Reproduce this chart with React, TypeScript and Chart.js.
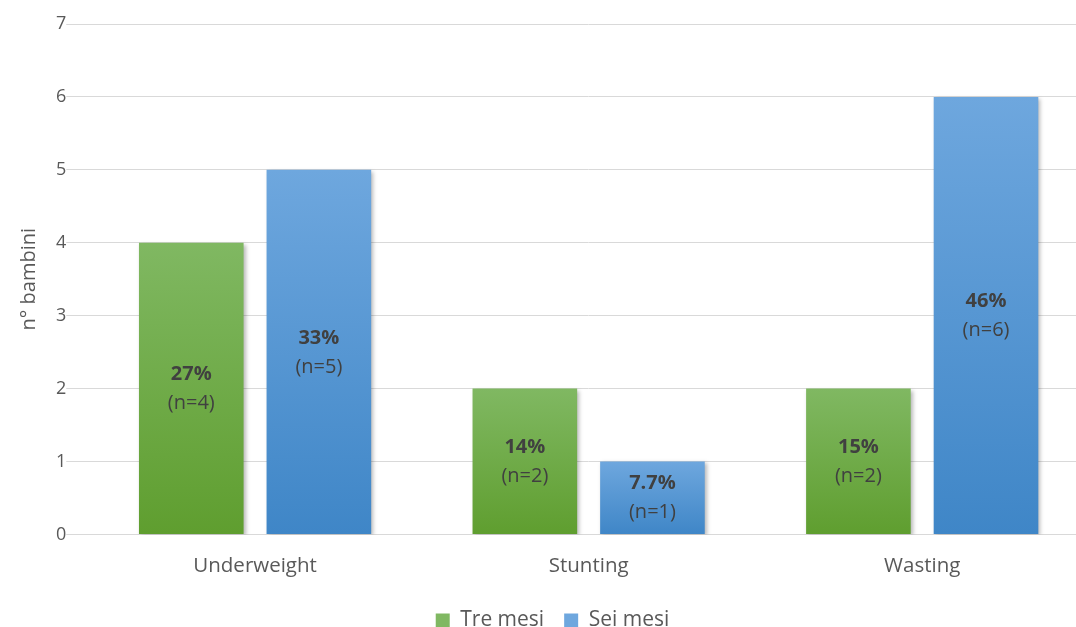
import React, { useEffect, useRef } from "react";
import { Chart, registerables } from "chart.js";

Chart.register(...registerables);

const categories = ["Underweight", "Stunting", "Wasting"];
const treMesi = [4, 2, 2];
const seiMesi = [5, 1, 6];
const treMesiPct = ["27%", "14%", "15%"];
const seiMesiPct = ["33%", "7.7%", "46%"];
const yTicks = [0, 1, 2, 3, 4, 5, 6, 7];

const FONT = "'Open Sans', 'DejaVu Sans', sans-serif";
const TEXT = "#595959";

const greenStops = ["#80b862", "#5f9e2f"];
const blueStops = ["#6ea7de", "#3f86c7"];

function barGradient(stops: string[]) {
  return (ctx: any) => {
    const chart = ctx.chart;
    const y = chart.scales?.y;
    if (!y || ctx.type !== "data") return stops[1];
    const top = y.getPixelForValue(ctx.raw);
    const base = y.getPixelForValue(0);
    if (!isFinite(top) || !isFinite(base) || top === base) return stops[1];
    const g = chart.ctx.createLinearGradient(0, top, 0, base);
    g.addColorStop(0, stops[0]);
    g.addColorStop(1, stops[1]);
    return g;
  };
}

// soft drop shadow behind each bar
const shadowPlugin = {
  id: "barShadow",
  beforeDatasetDraw(chart: any) {
    const c = chart.ctx;
    c.save();
    c.shadowColor = "rgba(0,0,0,0.28)";
    c.shadowBlur = 4;
    c.shadowOffsetX = 2;
    c.shadowOffsetY = 2;
  },
  afterDatasetDraw(chart: any) {
    chart.ctx.restore();
  },
};

// percentage and count written in the middle of each bar
const labelPlugin = {
  id: "barLabels",
  afterDatasetsDraw(chart: any) {
    const c = chart.ctx;
    const pcts = [treMesiPct, seiMesiPct];
    const counts = [treMesi, seiMesi];
    chart.data.datasets.forEach((_: any, di: number) => {
      const meta = chart.getDatasetMeta(di);
      meta.data.forEach((bar: any, i: number) => {
        const mid = (bar.y + bar.base) / 2;
        c.save();
        c.fillStyle = "#404040";
        c.textAlign = "center";
        c.textBaseline = "middle";
        c.font = `bold 20px ${FONT}`;
        c.fillText(pcts[di][i], bar.x, mid - 14);
        c.font = `20px ${FONT}`;
        c.fillText(`(n=${counts[di][i]})`, bar.x, mid + 15);
        c.restore();
      });
    });
  },
};

export default function App() {
  const ref = useRef<HTMLCanvasElement>(null);

  useEffect(() => {
    document.body.style.margin = "0";
    const canvas = ref.current;
    if (!canvas) return;
    const chart = new Chart(canvas, {
      type: "bar",
      data: {
        labels: categories,
        datasets: [
          {
            label: "Tre mesi",
            data: treMesi,
            backgroundColor: barGradient(greenStops),
            barPercentage: 0.82,
            categoryPercentage: 0.765,
          },
          {
            label: "Sei mesi",
            data: seiMesi,
            backgroundColor: barGradient(blueStops),
            barPercentage: 0.82,
            categoryPercentage: 0.765,
          },
        ],
      },
      options: {
        animation: false,
        responsive: false,
        maintainAspectRatio: false,
        layout: { padding: { top: 24, right: 3, left: 16, bottom: 0 } },
        scales: {
          x: {
            grid: { display: false },
            border: { color: "#d9d9d9", width: 1 },
            ticks: { color: TEXT, font: { family: FONT, size: 20.5 }, padding: 11 },
            afterFit: (scale: any) => {
              scale.height += 1;
            },
          },
          y: {
            min: 0,
            max: 7,
            afterBuildTicks: (axis: any) => {
              axis.ticks = yTicks.map((v) => ({ value: v }));
            },
            grid: { color: "#d9d9d9", lineWidth: 1, tickLength: 22, tickColor: "#d9d9d9" },
            border: { display: false },
            ticks: { color: TEXT, font: { family: FONT, size: 18 }, padding: 0 },
            title: {
              display: true,
              text: "n° bambini",
              color: TEXT,
              font: { family: FONT, size: 20 },
              padding: { top: 1, bottom: 15 },
            },
          },
        },
        plugins: {
          legend: {
            position: "bottom",
            labels: {
              color: TEXT,
              font: { family: FONT, size: 21 },
              boxWidth: 14,
              boxHeight: 14,
              padding: 20,
              generateLabels: (chart: any) =>
                chart.data.datasets.map((ds: any, i: number) => ({
                  text: ds.label,
                  fillStyle: (i === 0 ? greenStops : blueStops)[0],
                  strokeStyle: "transparent",
                  lineWidth: 0,
                  fontColor: TEXT,
                  datasetIndex: i,
                  hidden: false,
                })),
            },
          },
          tooltip: { enabled: false },
        },
      },
      plugins: [shadowPlugin, labelPlugin],
    });
    return () => chart.destroy();
  }, []);

  return (
    <div style={{ width: 1076, height: 627, background: "#fff", overflow: "hidden" }}>
      <canvas ref={ref} width={1092} height={641} style={{ display: "block" }} />
    </div>
  );
}
